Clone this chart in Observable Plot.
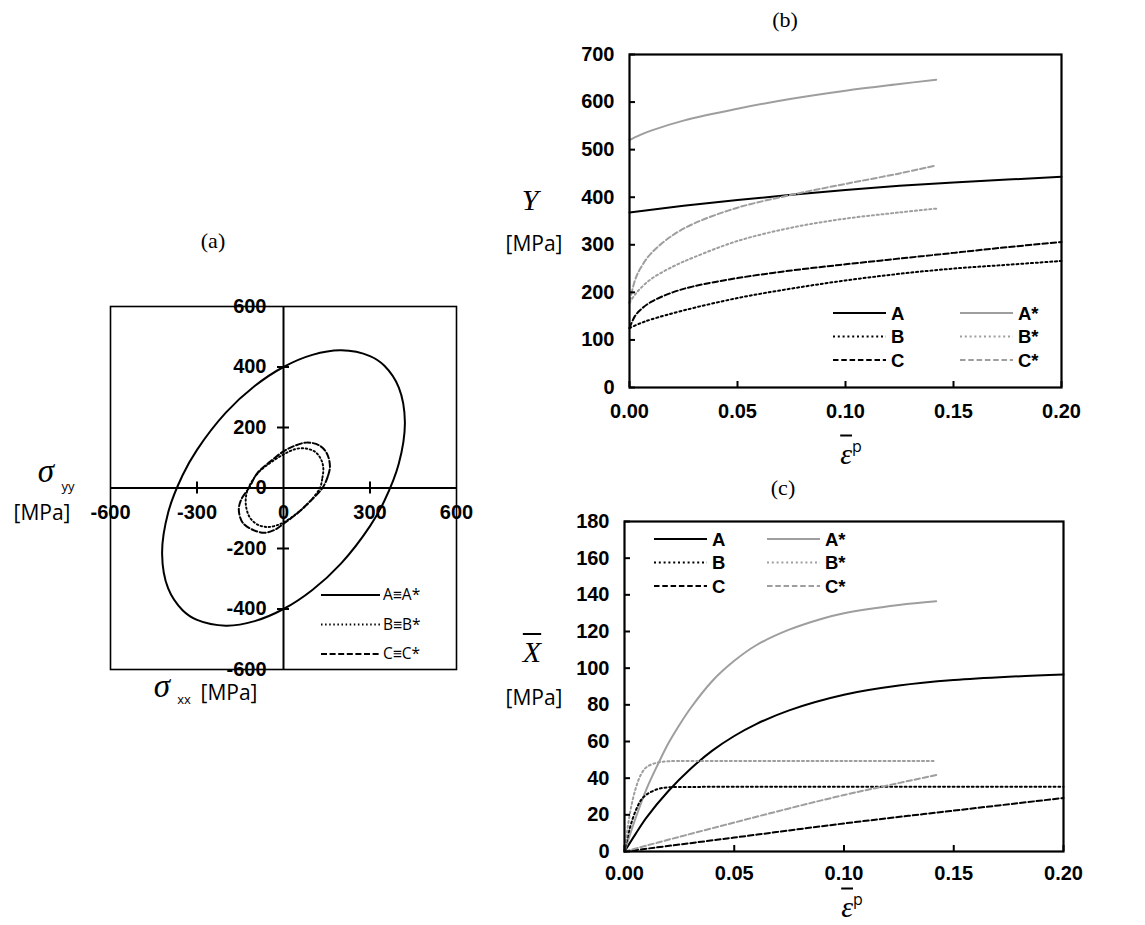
<!DOCTYPE html>
<html>
<head>
<meta charset="utf-8">
<script src="https://cdn.jsdelivr.net/npm/d3@7"></script>
<script src="https://cdn.jsdelivr.net/npm/@observablehq/plot@0.6"></script>
<style>
  body { margin: 0; background: #fff; }
  #fig { position: relative; width: 1145px; height: 925px; overflow: hidden; background: #fff; }
  .lbl { position: absolute; white-space: nowrap; line-height: 1; color: #000; transform: translate(-50%, -50%); }
  .ttl { font-family: "Liberation Serif", "Times New Roman", serif; font-size: 22px; }
  .mpa { font-family: "Open Sans", "DejaVu Sans", sans-serif; font-size: 21px; }
  .sym { font-family: "Liberation Serif", "DejaVu Serif", serif; font-style: italic; font-size: 30px; }
  .big { font-size: 33px; }
  .sub { font-family: "Open Sans", sans-serif; font-size: 13px; }
  .ov { text-decoration: overline; text-decoration-thickness: 1.5px; }
  .sup { font-family: "Open Sans", sans-serif; font-size: 16px; font-style: normal; vertical-align: 12px; }
</style>
</head>
<body>
<div id="fig"></div>
<script>
// ---------------- DATA ----------------
// (a) yield loci in the sigma_xx - sigma_yy plane [MPa]
const locusA = [[421,218],[400,332],[350,404],[300,436],[200,455],[100,440],[0,400],[-100,337],[-200,249],[-300,126],[-350,42],[-400,-81],[-421,-218],[-400,-332],[-350,-404],[-300,-436],[-200,-455],[-100,-440],[0,-400],[100,-337],[200,-249],[300,-126],[350,-42],[400,81]];
const locusB = [[126,0],[135,34],[138,67],[130,95],[109,120],[74,131],[39,128],[0,111],[-45,84],[-88,50],[-122,0],[-131,-37],[-128,-70],[-115,-100],[-88,-122],[-53,-129],[-19,-122],[0,-114],[45,-85],[91,-45]];
const locusC = [[135,0],[155,42],[161,73],[150,115],[122,142],[80,150],[40,140],[0,121],[-45,88],[-90,50],[-120,0],[-146,-37],[-155,-72],[-142,-114],[-107,-138],[-65,-148],[-28,-137],[0,-118],[45,-86],[90,-46]];
const ticksA_x = [-600, -300, 0, 300, 600];
const ticksA_y = [-600, -400, -200, 0, 200, 400, 600];
const tickMarksA_x = [-300, 300];
const tickMarksA_y = [-400, -200, 200, 400];
const legendA = ["A≡A*", "B≡B*", "C≡C*"];

// (b) yield stress Y [MPa] vs equivalent plastic strain
const strainY_A = [0, 0.025, 0.05, 0.075, 0.1, 0.125, 0.15, 0.175, 0.2];
const yieldY_A  = [368, 382, 394, 405, 415, 424, 431, 437, 443];
const strainY_As = [0, 0.005, 0.01, 0.025, 0.05, 0.075, 0.1, 0.125, 0.142];
const yieldY_As  = [520, 531, 540, 561, 586, 607, 624, 638, 647];
const strainY_B = [0, 0.005, 0.01, 0.025, 0.05, 0.075, 0.1, 0.125, 0.15, 0.175, 0.2];
const yieldY_B  = [125, 135, 143, 162, 188, 208, 225, 239, 250, 258, 266];
const strainY_Bs = [0, 0.0025, 0.005, 0.01, 0.02, 0.03, 0.05, 0.075, 0.1, 0.125, 0.142];
const yieldY_Bs  = [178, 195, 208, 228, 254, 274, 308, 336, 355, 368, 376];
const strainY_C = [0, 0.0025, 0.005, 0.01, 0.02, 0.03, 0.05, 0.075, 0.1, 0.125, 0.15, 0.175, 0.2];
const yieldY_C  = [125, 150, 163, 180, 200, 213, 230, 246, 259, 271, 283, 295, 306];
const strainY_Cs = [0, 0.0025, 0.005, 0.01, 0.02, 0.03, 0.05, 0.075, 0.1, 0.125, 0.142];
const yieldY_Cs  = [178, 225, 250, 282, 320, 345, 378, 405, 428, 450, 467];

// (c) back stress X-bar [MPa] vs equivalent plastic strain
const strainX_A = [0, 0.005, 0.01, 0.02, 0.03, 0.04, 0.05, 0.06, 0.075, 0.1, 0.125, 0.15, 0.175, 0.2];
const backX_A   = [0, 9.5, 18.5, 33, 45, 55, 63, 69.5, 77, 85.5, 90.5, 93.5, 95.3, 96.5];
const strainX_As = [0, 0.005, 0.01, 0.015, 0.02, 0.025, 0.03, 0.04, 0.05, 0.06, 0.075, 0.09, 0.1, 0.125, 0.142];
const backX_As   = [0, 18, 34, 47, 59, 69, 78, 93, 104, 112.5, 121, 127, 130, 134.5, 136.5];
const strainX_B = [0, 0.0025, 0.005, 0.0075, 0.01, 0.015, 0.02, 0.03, 0.05, 0.1, 0.15, 0.2];
const backX_B   = [0, 13, 22, 28, 31, 34, 35, 35.2, 35.3, 35.3, 35.3, 35.3];
const strainX_Bs = [0, 0.0025, 0.005, 0.0075, 0.01, 0.015, 0.02, 0.03, 0.05, 0.1, 0.142];
const backX_Bs   = [0, 21, 34, 42, 46, 48.5, 49.2, 49.4, 49.4, 49.4, 49.4];
const strainX_C = [0, 0.05, 0.1, 0.15, 0.2];
const backX_C   = [0, 7.6, 15.3, 22.3, 29.2];
const strainX_Cs = [0, 0.025, 0.05, 0.075, 0.1, 0.142];
const backX_Cs   = [0, 8, 15.8, 23.5, 30.8, 41.7];

const seriesNames = ["A", "A*", "B", "B*", "C", "C*"];
const strainTicks = [0, 0.05, 0.1, 0.15, 0.2];
const yTicksB = [0, 100, 200, 300, 400, 500, 600, 700];
const yTicksC = [0, 20, 40, 60, 80, 100, 120, 140, 160, 180];

// ---------------- STYLES ----------------
const GRAY = "#9e9e9e";
const DOT = "2,2.8", DASH = "5.5,2.8";
const sty = {
  "A":  {stroke: "#000", dash: null},
  "A*": {stroke: GRAY,  dash: null},
  "B":  {stroke: "#000", dash: DOT},
  "B*": {stroke: GRAY,  dash: DOT},
  "C":  {stroke: "#000", dash: DASH},
  "C*": {stroke: GRAY,  dash: DASH}
};
const zip = (xs, ys) => xs.map((e, i) => ({e, v: ys[i]}));
const dataB = {
  "A": zip(strainY_A, yieldY_A), "A*": zip(strainY_As, yieldY_As),
  "B": zip(strainY_B, yieldY_B), "B*": zip(strainY_Bs, yieldY_Bs),
  "C": zip(strainY_C, yieldY_C), "C*": zip(strainY_Cs, yieldY_Cs)
};
const dataC = {
  "A": zip(strainX_A, backX_A), "A*": zip(strainX_As, backX_As),
  "B": zip(strainX_B, backX_B), "B*": zip(strainX_Bs, backX_Bs),
  "C": zip(strainX_C, backX_C), "C*": zip(strainX_Cs, backX_Cs)
};

const fig = document.getElementById("fig");
const place = (svg, left, top) => {
  svg.style.position = "absolute";
  svg.style.left = left + "px";
  svg.style.top = top + "px";
  svg.style.overflow = "visible";
  svg.style.background = "transparent";
  fig.appendChild(svg);
};
const FS = 20;
const baseStyle = {fontFamily: "'Liberation Sans', Arial, sans-serif", fontSize: FS + "px", fontWeight: "bold", color: "#000", background: "transparent"};

// ---------------- PANEL (a) ----------------
const drawOrder = [["A", locusA, null, 2], ["C", locusC, "6,2.6", 2], ["B", locusB, "1.5,2.6", 1.9]];
const plotA = Plot.plot({
  width: 560, height: 490,
  marginLeft: 110, marginRight: 104, marginTop: 76, marginBottom: 51,
  x: {domain: [-600, 600], axis: null},
  y: {domain: [-600, 600], axis: null},
  style: baseStyle,
  marks: [
    Plot.frame({stroke: "#000", strokeWidth: 1.6}),
    Plot.ruleX([0], {stroke: "#000", strokeWidth: 2}),
    Plot.ruleY([0], {stroke: "#000", strokeWidth: 2}),
    Plot.ruleX(tickMarksA_x, {x: d => d, y1: d => 0, y2: d => 0, insetTop: -6, insetBottom: -6, stroke: "#000", strokeWidth: 2}),
    Plot.ruleY(tickMarksA_y, {y: d => d, x1: d => 0, x2: d => 0, insetLeft: -6, insetRight: -6, stroke: "#000", strokeWidth: 2}),
    ...drawOrder.map(([k, pts, dash, sw]) => Plot.line(pts, {x: d => d[0], y: d => d[1], curve: "catmull-rom-closed", stroke: "#000", strokeWidth: sw, strokeDasharray: dash})),
    Plot.text(ticksA_x, {x: d => d, y: d => 0, dy: 25, text: d => String(d), fontWeight: "bold", fontSize: FS, fill: "#000"}),
    Plot.text(ticksA_y, {x: d => 0, y: d => d, dx: -17, textAnchor: "end", text: d => String(d), fontWeight: "bold", fontSize: FS, fill: "#000"})
  ]
});
place(plotA, 0, 230);

// ---------------- PANELS (b) and (c) ----------------
function strainPlot(data, yDomain, yTicks, dims) {
  const y0 = yDomain[0];
  return Plot.plot({
    width: dims.width, height: dims.height,
    marginLeft: dims.ml, marginRight: dims.mr, marginTop: dims.mt, marginBottom: dims.mb,
    x: {domain: [0, 0.2]},
    y: {domain: yDomain},
    style: baseStyle,
    marks: [
      ...seriesNames.map(k => Plot.line(data[k], {x: "e", y: "v", curve: "catmull-rom", stroke: sty[k].stroke, strokeWidth: 2, strokeDasharray: sty[k].dash})),
      Plot.frame({stroke: "#000", strokeWidth: 2.2}),
      // inward tick marks
      Plot.ruleX(strainTicks, {x: d => d, y1: d => y0, y2: d => y0, insetTop: -6, stroke: "#000", strokeWidth: 2}),
      Plot.ruleY(yTicks, {y: d => d, x1: d => 0, x2: d => 0, insetRight: -6, stroke: "#000", strokeWidth: 2}),
      Plot.axisX({ticks: strainTicks, tickFormat: d3.format(".2f"), tickSize: 0, tickPadding: dims.xpad, label: null, fontWeight: "bold", fontSize: FS}),
      Plot.axisY({ticks: yTicks, tickFormat: d3.format("d"), tickSize: 0, tickPadding: 15, label: null, fontWeight: "bold", fontSize: FS})
    ]
  });
}
place(strainPlot(dataB, [0, 700], yTicksB, {width: 585, height: 440, ml: 69, mr: 84, mt: 54, mb: 53, xpad: 16}), 560, 0);
place(strainPlot(dataC, [0, 180], yTicksC, {width: 585, height: 465, ml: 64, mr: 82, mt: 61, mb: 74, xpad: 14}), 560, 460);

// ---------------- LEGENDS ----------------
const overlay = d3.select(fig).append("svg")
  .attr("width", 1145).attr("height", 925)
  .style("position", "absolute").style("left", 0).style("top", 0).style("pointer-events", "none");

// legend (a)
const dashA = [null, "1.5,2.6", "6,2.6"];
legendA.forEach((t, i) => {
  const y = 595 + i * 29.5;
  overlay.append("line").attr("x1", 321).attr("x2", 380).attr("y1", y).attr("y2", y)
    .attr("stroke", "#000").attr("stroke-width", 2).attr("stroke-dasharray", dashA[i]);
  overlay.append("text").attr("x", 383).attr("y", y).attr("dy", "0.35em")
    .attr("font-family", "'Open Sans', sans-serif").attr("font-size", 15.5).attr("fill", "#000").text(t);
});

function strainLegend(y0, xL, xR, gap) {
  seriesNames.forEach((k, i) => {
    const row = Math.floor(i / 2), col = i % 2;
    const y = y0 + row * gap;
    const x0 = col === 0 ? xL : xR;
    overlay.append("line").attr("x1", x0).attr("x2", x0 + 53).attr("y1", y).attr("y2", y)
      .attr("stroke", sty[k].stroke).attr("stroke-width", 2).attr("stroke-dasharray", sty[k].dash);
    overlay.append("text").attr("x", x0 + 58).attr("y", y).attr("dy", "0.36em")
      .attr("font-family", "'Liberation Sans', Arial, sans-serif").attr("font-weight", "bold")
      .attr("font-size", 18.5).attr("fill", "#000").text(k);
  });
}
strainLegend(313, 833, 960, 23.5);
strainLegend(539, 654, 767, 23.5);

// ---------------- TEXT LABELS ----------------
function label(html, cls, x, y) {
  const d = document.createElement("div");
  d.className = "lbl " + cls;
  d.style.left = x + "px";
  d.style.top = y + "px";
  d.innerHTML = html;
  fig.appendChild(d);
}
label("(a)", "ttl", 213, 241);
label("(b)", "ttl", 785, 20);
label("(c)", "ttl", 783, 488);

label('<span class="sym big">σ</span>', "", 46, 471);
label("yy", "sub", 68, 486);
label("[MPa]", "mpa", 42, 512);

label('<span class="sym big">σ</span>', "", 162, 686);
label("xx", "sub", 184, 699);
label("[MPa]", "mpa", 229, 692);

label('<span class="sym">Y</span>', "", 530, 200);
label("[MPa]", "mpa", 534, 243);
label('<span class="sym ov">X</span>', "", 532, 652);
label("[MPa]", "mpa", 534, 697);

label('<span class="sym ov">ε</span><span class="sup">p</span>', "", 851, 453);
label('<span class="sym ov">ε</span><span class="sup">p</span>', "", 852, 906);
</script>
</body>
</html>
